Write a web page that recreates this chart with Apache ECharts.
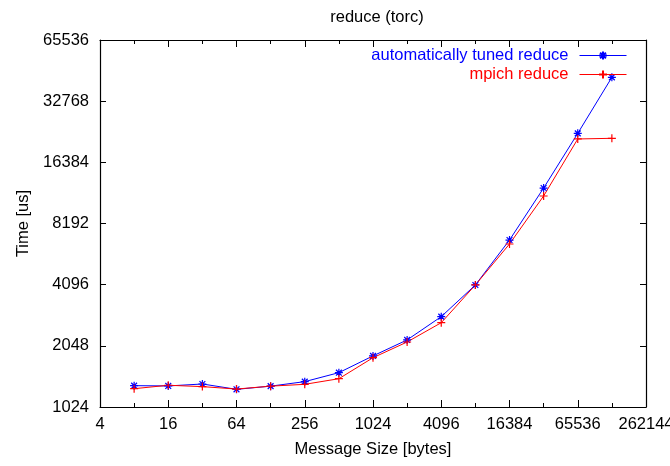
<!DOCTYPE html>
<html>
<head>
<meta charset="utf-8">
<script src="https://cdn.jsdelivr.net/npm/echarts@6/dist/echarts.min.js"></script>
<style>html,body{margin:0;padding:0;background:#fff}#c{width:670px;height:466px}</style>
</head>
<body>
<div id="c"></div>
<script>
var messageSizes = [8, 16, 32, 64, 128, 256, 512, 1024, 2048, 4096, 8192, 16384, 32768, 65536, 131072];
var tunedReduce = [1304, 1300, 1329, 1251, 1297, 1365, 1511, 1827, 2190, 2851, 4082, 6792, 12245, 22750, 42940];
var mpichReduce = [1260, 1310, 1290, 1255, 1297, 1324, 1411, 1790, 2139, 2662, 4082, 6494, 11190, 21350, 21510];
var xTickLabels = [4, 16, 64, 256, 1024, 4096, 16384, 65536, 262144];
var yTickLabels = [1024, 2048, 4096, 8192, 16384, 32768, 65536];

var FONT = 'Liberation Sans';
var FS = 16.5;
var BLUE = '#0000ff', RED = '#ff0000';
function pairs(xs, ys){ return xs.map(function(x,i){ return [x, ys[i]]; }); }
var starPath = 'path://M0,-4L0,4M-4,0L4,0M-2.9,-2.9L2.9,2.9M-2.9,2.9L2.9,-2.9';
var plusPath = 'path://M0,-4L0,4M-4,0L4,0';

function tick(len){ return { show: true, inside: true, length: len, lineStyle: { color: '#000', width: 1 } }; }
var lineOn = { show: true, onZero: false, lineStyle: { color: '#000', width: 1.2 } };

function xAx(pos, interval, tickLen, labels, showLine){
  return {
    type: 'log', logBase: 2, min: 4, max: 262144, interval: interval, position: pos,
    axisLine: showLine ? lineOn : { show: false }, axisTick: tick(tickLen), splitLine: { show: false },
    axisLabel: labels ? {
      show: true, margin: 9, color: '#000', fontFamily: FONT, fontSize: FS,
      formatter: function(v){ var r = Math.round(v); return xTickLabels.indexOf(r) >= 0 ? String(r) : ''; }
    } : { show: false },
    name: labels ? 'Message Size [bytes]' : '', nameLocation: 'middle', nameGap: 34,
    nameTextStyle: { color: '#000', fontFamily: FONT, fontSize: FS }
  };
}
function yAx(pos, labels){
  return {
    type: 'log', logBase: 2, min: 1024, max: 65536, interval: 1, position: pos,
    axisLine: lineOn, axisTick: tick(6), splitLine: { show: false },
    axisLabel: labels ? {
      show: true, margin: 11, color: '#000', fontFamily: FONT, fontSize: FS,
      formatter: function(v){ var r = Math.round(v); return yTickLabels.indexOf(r) >= 0 ? String(r) : ''; }
    } : { show: false },
    name: labels ? 'Time [us]' : '', nameLocation: 'middle', nameGap: 68, nameRotate: 90,
    nameTextStyle: { color: '#000', fontFamily: FONT, fontSize: FS }
  };
}

var chart = echarts.init(document.getElementById('c'), null, { renderer: 'canvas' });
chart.setOption({
  animation: false,
  backgroundColor: '#fff',
  title: { text: 'reduce (torc)', left: 372, textAlign: 'center', top: 4,
           textStyle: { color: '#000', fontFamily: FONT, fontSize: FS, fontWeight: 'normal' } },
  grid: { left: 100, right: 24, top: 40, bottom: 59, containLabel: false, outerBoundsMode: 'none' },
  legend: {
    orient: 'vertical', right: 38, top: 42, align: 'right', itemWidth: 47, itemHeight: 10, itemGap: 2,
    lineStyle: { width: 1 },
    data: [
      { name: 'automatically tuned reduce', textStyle: { color: BLUE } },
      { name: 'mpich reduce', textStyle: { color: RED } }
    ],
    textStyle: { fontFamily: FONT, fontSize: FS, padding: [0, 6, 0, 0] }
  },
  xAxis: [xAx('bottom', 2, 7, true, true), xAx('top', 2, 7, false, true),
          xAx('bottom', 1, 4, false, false), xAx('top', 1, 4, false, false)],
  yAxis: [yAx('left', true), yAx('right', false)],
  series: [
    { name: 'automatically tuned reduce', type: 'line', data: pairs(messageSizes, tunedReduce),
      symbol: starPath, symbolSize: 8, showAllSymbol: true, color: BLUE,
      lineStyle: { color: BLUE, width: 1 },
      itemStyle: { color: BLUE, borderColor: BLUE, borderWidth: 1.2 } },
    { name: 'mpich reduce', type: 'line', data: pairs(messageSizes, mpichReduce),
      symbol: plusPath, symbolSize: 8, showAllSymbol: true, color: RED,
      lineStyle: { color: RED, width: 1 },
      itemStyle: { color: RED, borderColor: RED, borderWidth: 1.2 } }
  ]
});
</script>
</body>
</html>
